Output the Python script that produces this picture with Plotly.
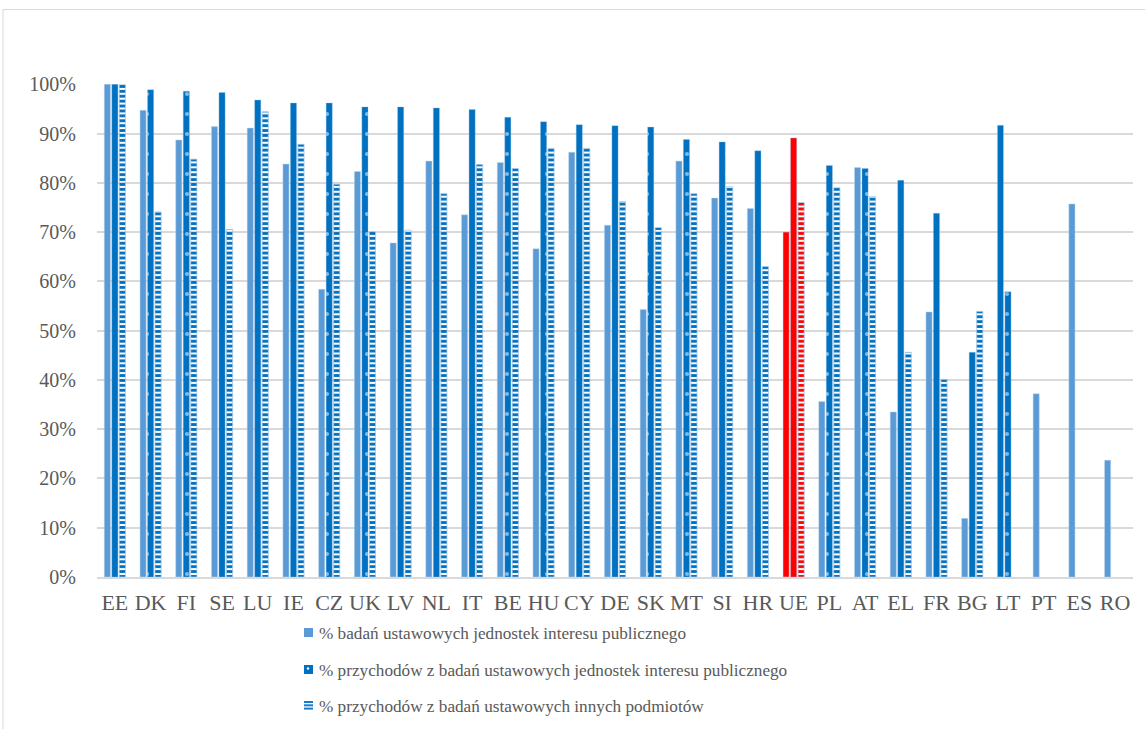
import plotly.graph_objects as go

# Country codes (UE = EU average)
countries = ["EE", "DK", "FI", "SE", "LU", "IE", "CZ", "UK", "LV", "NL", "IT", "BE", "HU", "CY",
             "DE", "SK", "MT", "SI", "HR", "UE", "PL", "AT", "EL", "FR", "BG", "LT", "PT", "ES", "RO"]

# % badań ustawowych jednostek interesu publicznego
audits_pie = [100, 94.7, 88.7, 91.4, 91.1, 83.8, 58.4, 82.3, 67.8, 84.4, 73.5, 84.1, 66.6, 86.2,
              71.4, 54.3, 84.4, 76.9, 74.8, 70.0, 35.6, 83.1, 33.5, 53.8, 11.9, 91.7, 37.2, 75.7, 23.7]

# % przychodów z badań ustawowych jednostek interesu publicznego
revenue_pie = [100, 98.9, 98.6, 98.3, 96.8, 96.2, 96.2, 95.4, 95.4, 95.2, 94.9, 93.3, 92.4, 91.8,
               91.6, 91.3, 88.8, 88.3, 86.5, 89.1, 83.5, 82.9, 80.5, 73.8, 45.6, 57.9, None, None, None]

# % przychodów z badań ustawowych innych podmiotów
revenue_other = [100, 74.1, 84.8, 70.5, 94.4, 87.8, 79.7, 70.1, 70.4, 77.8, 83.7, 82.9, 87.0, 87.0,
                 76.2, 70.9, 77.8, 79.2, 63.0, 76.0, 79.0, 77.2, 45.6, 40.1, 53.9, None, None, None, None]

series_names = [
    "% badań ustawowych jednostek interesu publicznego",
    "% przychodów z badań ustawowych jednostek interesu publicznego",
    "% przychodów z badań ustawowych innych podmiotów",
]

LIGHT = "#5B9BD5"
DARK = "#0070C0"
STRIPE = "#1A7BCB"
RED = "#FF0000"
TEXT = "#595959"
GRID = "#D9D9D9"
FONT = "Liberation Serif, Times New Roman, serif"

# plot area in pixels
W, H = 1145, 729
L, R, T, B = 97, 12, 84, 152
PW, PH = W - L - R, H - T - B


def pct(values):
    return [None if v is None else v / 100 for v in values]


def highlight(base, special):
    return [special.get(c, base) for c in countries]


def px_x(px):
    return (px - L) / PW


def px_y(py):
    return (H - B - py) / PH


fig = go.Figure()

fig.add_trace(go.Bar(
    x=countries, y=pct(audits_pie), name=series_names[0],
    marker=dict(color=highlight(LIGHT, {"UE": RED, "LT": DARK}),
                line=dict(color="rgba(189,215,238,0.8)", width=0.6)),
))

# dark bars with a sparse column of white dots
fig.add_trace(go.Bar(
    x=countries, y=pct(revenue_pie), name=series_names[1],
    marker=dict(color=highlight(DARK, {"UE": RED}),
                line=dict(color="rgba(157,195,230,0.6)", width=0.6),
                pattern=dict(shape=".", size=20, solidity=0.035,
                             fgcolor="white", fillmode="overlay")),
))

# white bars with dense horizontal stripes
fig.add_trace(go.Bar(
    x=countries, y=pct(revenue_other), name=series_names[2],
    marker=dict(color=highlight(DARK, {"UE": RED}),
                line=dict(color="rgba(157,195,230,0.9)", width=0.8),
                pattern=dict(shape="-", size=4.9, solidity=0.58,
                             fgcolor=highlight(STRIPE, {"UE": RED}), bgcolor="white",
                             fillmode="replace")),
))

# legend drawn by hand below the axis
shapes = [dict(type="rect", xref="paper", yref="paper",
               x0=px_x(3), x1=1.2, y0=-0.5, y1=px_y(9.5),
               line=dict(color=GRID, width=1), fillcolor="rgba(0,0,0,0)", layer="below")]
annotations = []
rows = [633, 670, 706]
sx0, sx1 = 304, 313


def box(x0, x1, y0, y1, color):
    return dict(type="rect", xref="paper", yref="paper",
                x0=px_x(x0), x1=px_x(x1), y0=px_y(y1), y1=px_y(y0),
                line=dict(width=0), fillcolor=color)


for i, (name, cy) in enumerate(zip(series_names, rows)):
    if i == 0:
        shapes.append(box(sx0, sx1, cy - 5, cy + 4, LIGHT))
    elif i == 1:
        shapes.append(box(sx0, sx1, cy - 5, cy + 4, DARK))
        shapes.append(dict(type="circle", xref="paper", yref="paper",
                           x0=px_x(306.8), x1=px_x(309.2), y0=px_y(cy - 0.3), y1=px_y(cy - 2.7),
                           line=dict(width=0), fillcolor="white"))
    else:
        for k in range(3):
            top = cy - 5 + k * 3.3
            shapes.append(box(sx0, sx1, top, top + 2, STRIPE))
    annotations.append(dict(xref="paper", yref="paper", x=px_x(316.5), y=px_y(cy),
                            xanchor="left", yanchor="middle", showarrow=False, text=name,
                            font=dict(family=FONT, size=17.2, color=TEXT)))

fig.update_layout(
    width=W, height=H,
    margin=dict(l=L, r=R, t=T, b=B),
    paper_bgcolor="white", plot_bgcolor="white",
    barmode="group", bargap=0.37, bargroupgap=0.18,
    font=dict(family=FONT, color=TEXT),
    showlegend=False,
    xaxis=dict(type="category", tickangle=0, showgrid=False,
               showline=True, linecolor=GRID, linewidth=1.5,
               ticks="outside", ticklen=5, tickcolor="rgba(0,0,0,0)",
               tickfont=dict(family=FONT, size=22, color=TEXT)),
    yaxis=dict(range=[0, 1.0005], dtick=0.1, tickformat=".0%",
               showgrid=True, gridcolor=GRID, gridwidth=1.5,
               zeroline=False, showline=False,
               ticks="outside", ticklen=16, tickcolor="rgba(0,0,0,0)",
               tickfont=dict(family=FONT, size=20, color=TEXT)),
    shapes=shapes,
    annotations=annotations,
)

fig.write_html("out.html")
